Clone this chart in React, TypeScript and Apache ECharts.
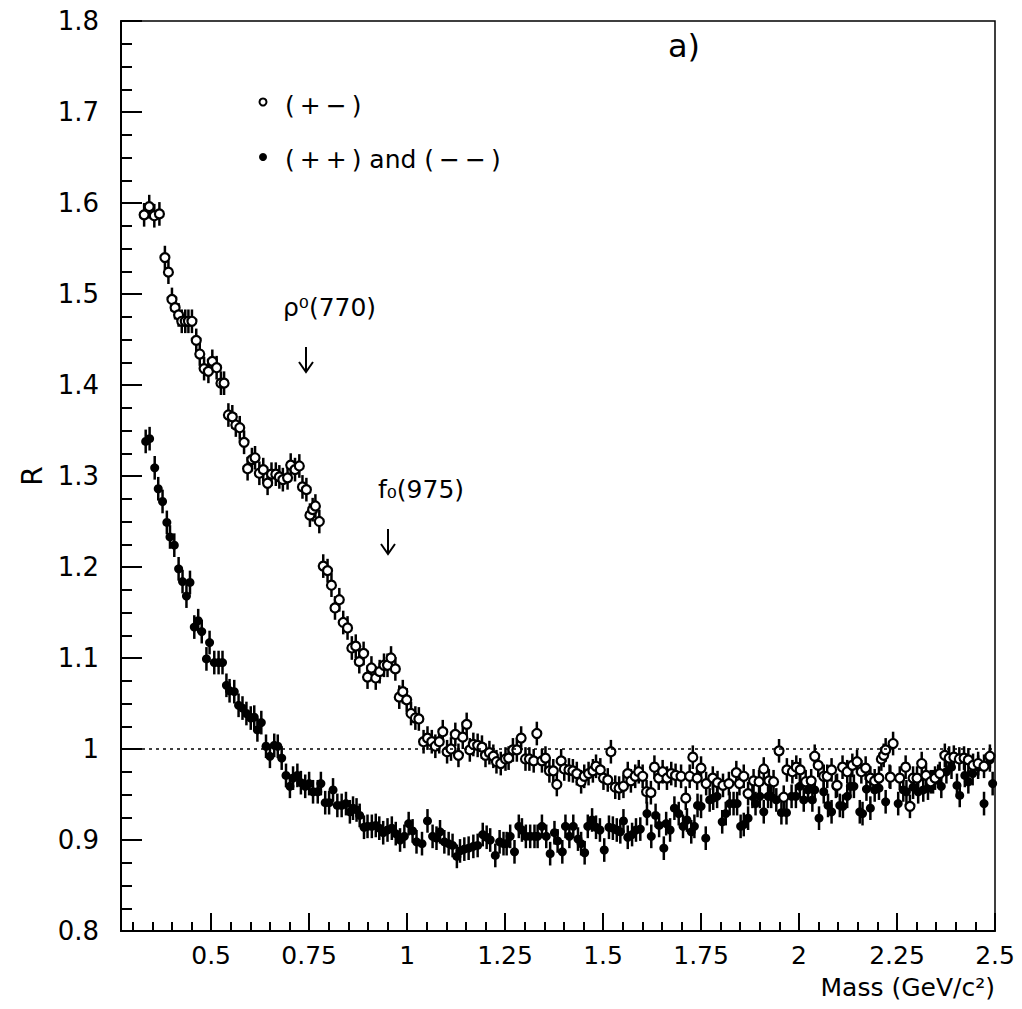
import React, { useEffect, useRef } from "react";
import * as echarts from "echarts";

// (+-) pairs : open circles
const PM_MASS = [
  0.329, 0.342, 0.355, 0.368, 0.382, 0.391, 0.400, 0.408, 0.417, 0.425, 0.434, 0.442, 0.451, 0.462, 0.471, 0.482, 0.493,
  0.503, 0.514, 0.525, 0.533, 0.544, 0.554, 0.563, 0.573, 0.584, 0.593, 0.604, 0.612, 0.623, 0.633, 0.644, 0.654, 0.665,
  0.674, 0.683, 0.695, 0.703, 0.714, 0.725, 0.733, 0.743, 0.752, 0.759, 0.766, 0.776, 0.786, 0.797, 0.807, 0.816, 0.827,
  0.837, 0.848, 0.859, 0.869, 0.878, 0.889, 0.899, 0.909, 0.920, 0.930, 0.941, 0.950, 0.959, 0.970, 0.980, 0.989, 0.999,
  1.010, 1.021, 1.030, 1.042, 1.052, 1.063, 1.072, 1.082, 1.091, 1.102, 1.112, 1.123, 1.131, 1.142, 1.152, 1.160, 1.169,
  1.180, 1.191, 1.200, 1.210, 1.220, 1.228, 1.239, 1.251, 1.259, 1.270, 1.280, 1.291, 1.302, 1.312, 1.323, 1.331, 1.344,
  1.353, 1.363, 1.373, 1.382, 1.393, 1.401, 1.413, 1.423, 1.433, 1.444, 1.452, 1.463, 1.474, 1.482, 1.493, 1.501, 1.512,
  1.520, 1.531, 1.541, 1.552, 1.563, 1.571, 1.582, 1.591, 1.601, 1.611, 1.622, 1.631, 1.642, 1.652, 1.663, 1.674, 1.685,
  1.699, 1.711, 1.721, 1.729, 1.740, 1.750, 1.763, 1.780, 1.792, 1.806, 1.821, 1.840, 1.848, 1.859, 1.870, 1.884, 1.898,
  1.910, 1.923, 1.935, 1.949, 1.961, 1.969, 1.983, 1.993, 2.003, 2.017, 2.031, 2.040, 2.049, 2.063, 2.072, 2.083, 2.097,
  2.111, 2.123, 2.136, 2.148, 2.159, 2.170, 2.182, 2.193, 2.204, 2.210, 2.216, 2.221, 2.233, 2.240, 2.257, 2.272, 2.283,
  2.291, 2.301, 2.313, 2.324, 2.336, 2.347, 2.359, 2.372, 2.383, 2.395, 2.409, 2.421, 2.432, 2.444, 2.457, 2.472, 2.487,
];
const PM_R = [
  1.587, 1.596, 1.586, 1.588, 1.540, 1.524, 1.494, 1.485, 1.477, 1.470, 1.470, 1.470, 1.470, 1.449, 1.434, 1.418, 1.415,
  1.426, 1.419, 1.402, 1.402, 1.367, 1.365, 1.356, 1.353, 1.337, 1.308, 1.318, 1.320, 1.303, 1.307, 1.292, 1.302, 1.302,
  1.299, 1.296, 1.298, 1.312, 1.307, 1.311, 1.288, 1.285, 1.257, 1.263, 1.267, 1.250, 1.201, 1.196, 1.180, 1.155, 1.164,
  1.139, 1.133, 1.111, 1.113, 1.096, 1.105, 1.079, 1.089, 1.078, 1.085, 1.092, 1.092, 1.100, 1.088, 1.057, 1.063, 1.054,
  1.039, 1.034, 1.033, 1.008, 1.012, 1.008, 1.003, 1.008, 1.019, 0.997, 1.000, 1.016, 0.993, 1.013, 1.027, 0.999, 1.005,
  1.004, 1.002, 0.993, 0.996, 0.992, 0.986, 0.984, 0.989, 0.990, 0.999, 0.999, 1.012, 0.989, 0.989, 0.987, 1.017, 0.987,
  0.990, 0.976, 0.976, 0.961, 0.987, 0.978, 0.977, 0.976, 0.973, 0.964, 0.970, 0.973, 0.976, 0.981, 0.977, 0.968, 0.966,
  0.997, 0.958, 0.957, 0.959, 0.973, 0.965, 0.970, 0.975, 0.970, 0.953, 0.952, 0.980, 0.968, 0.975, 0.968, 0.973, 0.971,
  0.970, 0.946, 0.970, 0.991, 0.968, 0.979, 0.962, 0.968, 0.963, 0.960, 0.962, 0.974, 0.962, 0.970, 0.951, 0.965, 0.964,
  0.978, 0.965, 0.964, 0.998, 0.947, 0.977, 0.975, 0.980, 0.977, 0.964, 0.965, 0.992, 0.982, 0.970, 0.970, 0.977, 0.960,
  0.980, 0.975, 0.982, 0.986, 0.975, 0.979, 0.968, 0.965, 0.968, 0.989, 0.993, 0.999, 0.969, 1.006, 0.968, 0.980, 0.937,
  0.968, 0.968, 0.984, 0.971, 0.964, 0.968, 0.973, 0.993, 0.990, 0.991, 0.989, 0.990, 0.988, 0.982, 0.984, 0.981, 0.992,
];

// (++) and (--) pairs : filled circles
const LS_MASS = [
  0.333, 0.343, 0.356, 0.365, 0.376, 0.387, 0.395, 0.406, 0.417, 0.427, 0.437, 0.446, 0.457, 0.467, 0.476, 0.488, 0.496,
  0.508, 0.519, 0.529, 0.539, 0.547, 0.559, 0.570, 0.580, 0.590, 0.601, 0.610, 0.618, 0.628, 0.640, 0.650, 0.661, 0.670,
  0.680, 0.691, 0.701, 0.709, 0.720, 0.729, 0.740, 0.750, 0.760, 0.772, 0.780, 0.791, 0.801, 0.811, 0.822, 0.833, 0.844,
  0.854, 0.862, 0.871, 0.879, 0.890, 0.899, 0.910, 0.920, 0.929, 0.939, 0.950, 0.961, 0.971, 0.982, 0.993, 1.004, 1.014,
  1.024, 1.038, 1.052, 1.065, 1.075, 1.084, 1.095, 1.106, 1.116, 1.127, 1.135, 1.146, 1.157, 1.169, 1.180, 1.193, 1.203,
  1.212, 1.225, 1.236, 1.246, 1.254, 1.263, 1.274, 1.285, 1.293, 1.303, 1.314, 1.325, 1.333, 1.344, 1.355, 1.365, 1.376,
  1.384, 1.396, 1.404, 1.414, 1.424, 1.436, 1.444, 1.453, 1.461, 1.472, 1.482, 1.492, 1.503, 1.515, 1.525, 1.535, 1.544,
  1.552, 1.563, 1.574, 1.584, 1.595, 1.612, 1.623, 1.634, 1.643, 1.655, 1.661, 1.671, 1.682, 1.693, 1.704, 1.714, 1.725,
  1.733, 1.741, 1.750, 1.762, 1.772, 1.781, 1.791, 1.804, 1.813, 1.823, 1.833, 1.842, 1.851, 1.859, 1.870, 1.881, 1.889,
  1.900, 1.910, 1.921, 1.929, 1.942, 1.955, 1.968, 1.981, 1.992, 2.002, 2.012, 2.023, 2.034, 2.040, 2.051, 2.063, 2.074,
  2.083, 2.094, 2.104, 2.112, 2.123, 2.131, 2.140, 2.155, 2.162, 2.172, 2.182, 2.193, 2.204, 2.221, 2.231, 2.253, 2.266,
  2.274, 2.291, 2.304, 2.317, 2.329, 2.342, 2.355, 2.363, 2.376, 2.389, 2.403, 2.410, 2.423, 2.432, 2.443, 2.457, 2.472,
  2.487, 2.494,
];
const LS_R = [
  1.338, 1.341, 1.309, 1.286, 1.272, 1.249, 1.233, 1.224, 1.198, 1.184, 1.168, 1.183, 1.134, 1.141, 1.129, 1.099, 1.117,
  1.095, 1.095, 1.095, 1.070, 1.064, 1.063, 1.048, 1.045, 1.039, 1.034, 1.035, 1.021, 1.029, 1.003, 0.992, 1.004, 1.003,
  0.990, 0.971, 0.959, 0.968, 0.971, 0.963, 0.959, 0.962, 0.953, 0.953, 0.962, 0.941, 0.941, 0.955, 0.938, 0.938, 0.940,
  0.931, 0.935, 0.933, 0.927, 0.914, 0.915, 0.915, 0.916, 0.913, 0.908, 0.911, 0.913, 0.907, 0.900, 0.904, 0.918, 0.910,
  0.898, 0.896, 0.921, 0.904, 0.902, 0.909, 0.898, 0.896, 0.894, 0.882, 0.888, 0.890, 0.891, 0.893, 0.894, 0.906, 0.903,
  0.900, 0.883, 0.898, 0.896, 0.896, 0.904, 0.887, 0.915, 0.911, 0.904, 0.904, 0.904, 0.904, 0.915, 0.904, 0.885, 0.908,
  0.899, 0.887, 0.915, 0.904, 0.915, 0.901, 0.896, 0.886, 0.915, 0.922, 0.914, 0.911, 0.889, 0.914, 0.913, 0.911, 0.909,
  0.921, 0.903, 0.906, 0.911, 0.912, 0.929, 0.904, 0.927, 0.916, 0.891, 0.918, 0.911, 0.935, 0.929, 0.915, 0.922, 0.909,
  0.915, 0.938, 0.937, 0.902, 0.944, 0.946, 0.948, 0.920, 0.929, 0.940, 0.940, 0.940, 0.915, 0.917, 0.924, 0.948, 0.940,
  0.948, 0.931, 0.948, 0.948, 0.944, 0.930, 0.930, 0.948, 0.948, 0.959, 0.944, 0.955, 0.944, 0.955, 0.924, 0.953, 0.938,
  0.931, 0.959, 0.938, 0.937, 0.948, 0.959, 0.959, 0.931, 0.929, 0.956, 0.935, 0.955, 0.957, 0.942, 0.970, 0.940, 0.955,
  0.953, 0.958, 0.953, 0.955, 0.957, 0.964, 0.970, 0.959, 0.975, 0.980, 0.960, 0.949, 0.971, 0.964, 0.973, 0.980, 0.940,
  0.988, 0.962,
];

const ERR_PM = 0.013;
const ERR_LS = 0.013;

const X_MAJOR_TICKS = [0.5, 0.75, 1, 1.25, 1.5, 1.75, 2, 2.25, 2.5];
const X_MINOR_TICKS = [
  0.3, 0.35, 0.4, 0.45, 0.55, 0.6, 0.65, 0.7, 0.8, 0.85, 0.9, 0.95, 1.05, 1.1, 1.15, 1.2, 1.3, 1.35, 1.4, 1.45,
  1.55, 1.6, 1.65, 1.7, 1.8, 1.85, 1.9, 1.95, 2.05, 2.1, 2.15, 2.2, 2.3, 2.35, 2.4, 2.45,
];

const FONT = "DejaVu Sans";

export default function App() {
  const ref = useRef<HTMLDivElement>(null);
  useEffect(() => {
    const chart = echarts.init(ref.current!, null, { renderer: "svg" });
    const pmErr = PM_MASS.map((m, i) => [m, PM_R[i], ERR_PM]);
    const lsErr = LS_MASS.map((m, i) => [m, LS_R[i], ERR_LS]);
    const pmPts = PM_MASS.map((m, i) => [m, PM_R[i]]);
    const lsPts = LS_MASS.map((m, i) => [m, LS_R[i]]);

    const errRender = (params: any, api: any) => {
      const x = api.value(0);
      const y = api.value(1);
      const e = api.value(2);
      const p1 = api.coord([x, y - e]);
      const p2 = api.coord([x, y + e]);
      return {
        type: "line",
        shape: { x1: p1[0], y1: p1[1], x2: p2[0], y2: p2[1] },
        style: { stroke: "#000", lineWidth: 2.5 },
      };
    };

    chart.setOption({
      animation: false,
      backgroundColor: "#fff",
      grid: {
        left: 121,
        right: 27,
        top: 21,
        bottom: 78,
        show: true,
        borderColor: "#000",
        borderWidth: 1.5,
        backgroundColor: "transparent",
      },
      xAxis: [
        {
          type: "value",
          min: 0.27,
          max: 2.5,
          position: "bottom",
          axisLine: { show: true, lineStyle: { color: "#000", width: 2 } },
          splitLine: { show: false },
          axisTick: {
            show: true,
            inside: true,
            length: 18,
            customValues: X_MAJOR_TICKS,
            lineStyle: { color: "#000", width: 2 },
          },
          axisLabel: {
            show: true,
            customValues: X_MAJOR_TICKS,
            margin: 12,
            color: "#000",
            fontFamily: FONT,
            fontSize: 25,
            formatter: (v: number) => String(Math.round(v * 100) / 100),
          },
        },
        {
          type: "value",
          min: 0.27,
          max: 2.5,
          position: "bottom",
          offset: 0,
          axisLine: { show: false },
          splitLine: { show: false },
          axisLabel: { show: false },
          axisTick: {
            show: true,
            inside: true,
            length: 9,
            customValues: X_MINOR_TICKS,
            lineStyle: { color: "#000", width: 2 },
          },
        },
      ],
      yAxis: {
        type: "value",
        min: 0.8,
        max: 1.8,
        interval: 0.1,
        name: "R",
        nameLocation: "middle",
        nameRotate: 90,
        nameGap: 74,
        nameTextStyle: { color: "#000", fontFamily: FONT, fontSize: 28 },
        axisLine: { show: true, lineStyle: { color: "#000", width: 2 } },
        splitLine: { show: false },
        axisTick: { show: true, inside: true, length: 21, lineStyle: { color: "#000", width: 2 } },
        minorTick: { show: true, splitNumber: 4, length: 11, lineStyle: { color: "#000", width: 2 } },
        axisLabel: {
          margin: 22,
          color: "#000",
          fontFamily: FONT,
          fontSize: 26,
          formatter: (v: number) => (Math.abs(v - 1) < 1e-9 ? "1" : v.toFixed(1)),
        },
      },
      series: [
        {
          type: "custom",
          name: "ls-err",
          renderItem: errRender,
          data: lsErr,
          encode: { x: 0, y: 1 },
          clip: true,
          silent: true,
          markLine: {
            silent: true,
            symbol: "none",
            label: { show: false },
            lineStyle: { color: "#000", type: [3, 4], width: 1.5 },
            data: [{ yAxis: 1 }],
          },
        },
        {
          type: "scatter",
          name: "(++) and (--)",
          data: lsPts,
          symbol: "circle",
          symbolSize: 9,
          itemStyle: { color: "#000", opacity: 1 },
          silent: true,
        },
        {
          type: "custom",
          name: "pm-err",
          renderItem: errRender,
          data: pmErr,
          encode: { x: 0, y: 1 },
          clip: true,
          silent: true,
        },
        {
          type: "scatter",
          name: "(+-)",
          data: pmPts,
          symbol: "circle",
          symbolSize: 9,
          itemStyle: { color: "#fff", borderColor: "#000", borderWidth: 2.2, opacity: 1 },
          silent: true,
        },
      ],
      graphic: [
        {
          type: "circle",
          shape: { cx: 263, cy: 102, r: 3.5 },
          style: { fill: "#fff", stroke: "#000", lineWidth: 2 },
        },
        {
          type: "text",
          x: 285,
          y: 105,
          style: {
            text: "(\u2009+\u2009\u2212\u2009)",
            fontFamily: FONT,
            fontSize: 25,
            fill: "#000",
            verticalAlign: "middle",
          },
        },
        {
          type: "circle",
          shape: { cx: 263, cy: 157, r: 4 },
          style: { fill: "#000" },
        },
        {
          type: "text",
          x: 285,
          y: 159,
          style: {
            text: "(\u2009+\u2009+\u2009) and (\u2009\u2212\u2009\u2212\u2009)",
            fontFamily: FONT,
            fontSize: 25,
            fill: "#000",
            verticalAlign: "middle",
          },
        },
        {
          type: "text",
          x: 668,
          y: 46,
          style: { text: "a)", fontFamily: FONT, fontSize: 32, fill: "#000", verticalAlign: "middle" },
        },
        {
          type: "text",
          x: 283,
          y: 307,
          style: { text: "\u03c1\u2070(770)", fontFamily: FONT, fontSize: 25, fill: "#000", verticalAlign: "middle" },
        },
        {
          type: "line",
          shape: { x1: 306, y1: 347, x2: 306, y2: 372 },
          style: { stroke: "#000", lineWidth: 2 },
        },
        {
          type: "polyline",
          shape: { points: [[299, 362], [306, 372], [313, 362]] },
          style: { stroke: "#000", lineWidth: 2, fill: "none" },
        },
        {
          type: "text",
          x: 378,
          y: 489,
          style: { text: "f\u2080(975)", fontFamily: FONT, fontSize: 25, fill: "#000", verticalAlign: "middle" },
        },
        {
          type: "line",
          shape: { x1: 388, y1: 529, x2: 388, y2: 554 },
          style: { stroke: "#000", lineWidth: 2 },
        },
        {
          type: "polyline",
          shape: { points: [[381, 544], [388, 554], [395, 544]] },
          style: { stroke: "#000", lineWidth: 2, fill: "none" },
        },
        {
          type: "text",
          x: 995,
          y: 987,
          style: {
            text: "Mass (GeV/c\u00b2)",
            fontFamily: FONT,
            fontSize: 25,
            fill: "#000",
            align: "right",
            verticalAlign: "middle",
          },
        },
      ],
    });
    return () => chart.dispose();
  }, []);
  return (
    <div
      ref={ref}
      style={{ position: "fixed", left: 0, top: 0, width: 1022, height: 1009, background: "#fff" }}
    />
  );
}
